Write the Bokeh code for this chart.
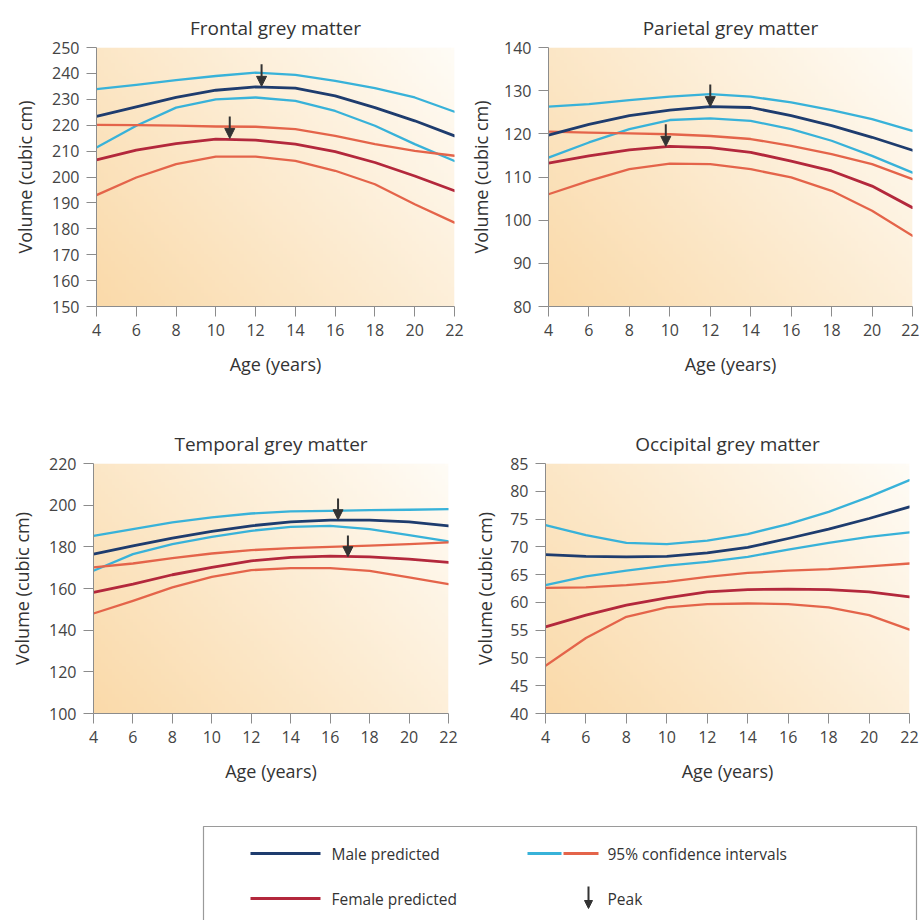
import numpy as np
from bokeh.plotting import figure
from bokeh.layouts import column, row
from bokeh.models import Range1d, FixedTicker, Arrow, NormalHead
from bokeh.embed import file_html
from bokeh.resources import INLINE
from bokeh.core.properties import value

# ---------------- data ----------------
ages = [4, 6, 8, 10, 12, 14, 16, 18, 20, 22]
x_ticks = [4, 6, 8, 10, 12, 14, 16, 18, 20, 22]

frontal_male_hi = [233.9, 235.6, 237.4, 239.0, 240.3, 239.4, 237.1, 234.3, 230.7, 225.2]
frontal_male = [223.4, 227.1, 230.7, 233.5, 234.8, 234.3, 231.3, 226.8, 221.7, 215.9]
frontal_male_lo = [211.4, 219.8, 226.8, 230.0, 230.7, 229.4, 225.5, 219.8, 212.7, 206.2]
frontal_female_hi = [220.1, 220.0, 219.8, 219.5, 219.4, 218.5, 215.9, 212.7, 210.1, 208.2]
frontal_female = [206.6, 210.4, 212.9, 214.6, 214.2, 212.7, 209.8, 205.6, 200.4, 194.7]
frontal_female_lo = [193.0, 199.8, 205.0, 207.9, 207.9, 206.2, 202.4, 197.2, 189.5, 182.4]
frontal_peak_age = [12.3, 10.7]
frontal_peak_vol = [235.0, 214.9]
frontal_yticks = [150, 160, 170, 180, 190, 200, 210, 220, 230, 240, 250]

parietal_male_hi = [126.3, 126.9, 127.8, 128.6, 129.2, 128.6, 127.3, 125.5, 123.4, 120.7]
parietal_male = [119.7, 122.2, 124.2, 125.5, 126.3, 126.1, 124.2, 121.9, 119.2, 116.2]
parietal_male_lo = [114.5, 118.0, 121.1, 123.2, 123.6, 123.0, 121.1, 118.4, 114.9, 111.0]
parietal_female_hi = [120.5, 120.3, 120.1, 119.9, 119.5, 118.8, 117.2, 115.3, 113.0, 109.5]
parietal_female = [113.2, 114.9, 116.3, 117.1, 116.8, 115.7, 113.7, 111.4, 107.9, 102.9]
parietal_female_lo = [106.0, 109.1, 111.8, 113.1, 113.0, 111.8, 109.9, 106.8, 102.2, 96.4]
parietal_peak_age = [12.0, 9.8]
parietal_peak_vol = [126.3, 117.1]
parietal_yticks = [80, 90, 100, 110, 120, 130, 140]

temporal_male_hi = [185.3, 188.5, 191.7, 194.1, 196.0, 197.0, 197.3, 197.6, 197.8, 198.1]
temporal_male = [176.5, 180.5, 184.2, 187.4, 190.1, 192.0, 192.8, 192.8, 192.0, 190.1]
temporal_male_lo = [168.5, 176.5, 181.3, 184.8, 187.7, 189.6, 190.1, 188.5, 185.6, 182.6]
temporal_female_hi = [170.1, 172.0, 174.6, 176.8, 178.4, 179.4, 180.0, 180.6, 181.3, 182.1]
temporal_female = [158.1, 162.1, 166.6, 170.1, 173.3, 174.9, 175.5, 175.2, 174.1, 172.5]
temporal_female_lo = [148.0, 154.1, 160.5, 165.6, 168.8, 169.8, 169.8, 168.5, 165.3, 162.1]
temporal_peak_age = [16.4, 16.9]
temporal_peak_vol = [193.0, 175.3]
temporal_yticks = [100, 120, 140, 160, 180, 200, 220]

occipital_male_hi = [73.9, 72.1, 70.7, 70.5, 71.1, 72.3, 74.1, 76.3, 79.0, 82.0]
occipital_male = [68.6, 68.3, 68.2, 68.3, 68.9, 69.9, 71.5, 73.2, 75.1, 77.2]
occipital_male_lo = [63.1, 64.7, 65.7, 66.6, 67.3, 68.2, 69.5, 70.7, 71.8, 72.6]
occipital_female_hi = [62.6, 62.7, 63.1, 63.7, 64.6, 65.3, 65.7, 66.0, 66.5, 67.0]
occipital_female = [55.6, 57.7, 59.5, 60.8, 61.9, 62.3, 62.4, 62.3, 61.9, 61.0]
occipital_female_lo = [48.6, 53.6, 57.4, 59.1, 59.7, 59.8, 59.7, 59.1, 57.7, 55.1]
occipital_peak_age = []
occipital_peak_vol = []
occipital_yticks = [40, 45, 50, 55, 60, 65, 70, 75, 80, 85]

legend_labels = ["Male predicted", "Female predicted", "95% confidence intervals", "Peak"]

# ---------------- style ----------------
FONT = "Open Sans"
MALE = "#1e3c6e"
MALE_CI = "#38b2d9"
FEMALE = "#b3283c"
FEMALE_CI = "#e4644a"
AXIS_GREY = "#8c8c8c"
TEXT = "#333333"


def gradient_image():
    ny, nx = 80, 100
    u = np.linspace(0, 1, nx)[None, :]
    v = np.linspace(0, 1, ny)[:, None]
    t = np.clip(0.62 * (1 - u) + 0.38 * (1 - v), 0, 1)
    c0 = np.array([255, 252, 246], dtype=float)
    c1 = np.array([250, 218, 170], dtype=float)
    img = np.empty((ny, nx), dtype=np.uint32)
    view = img.view(dtype=np.uint8).reshape((ny, nx, 4))
    for k in range(3):
        view[:, :, k] = (c0[k] + (c1[k] - c0[k]) * t).astype(np.uint8)
    view[:, :, 3] = 255
    return img


def make_panel(title, yticks, series, peak_age, peak_vol, width, height, bl, br, bt, bb, ylab_off):
    ylo, yhi = yticks[0], yticks[-1]
    p = figure(width=width, height=height, x_range=Range1d(ages[0], ages[-1]),
               y_range=Range1d(ylo, yhi), output_backend="svg", toolbar_location=None,
               min_border_left=bl, min_border_right=br, min_border_top=bt, min_border_bottom=bb,
               x_axis_label="Age (years)", y_axis_label="Volume (cubic cm)")
    p.outline_line_color = None
    p.grid.visible = False
    p.background_fill_color = "white"
    p.border_fill_color = "white"
    p.title.text = title
    p.title.align = "center"
    p.title.text_font = FONT
    p.title.text_font_size = "19px"
    p.title.text_font_style = "normal"
    p.title.text_color = TEXT
    p.title.standoff = 13

    x0, x1 = ages[0], ages[-1]
    p.image_rgba(image=[gradient_image()], x=x0, y=ylo, dw=x1 - x0, dh=yhi - ylo)

    male_hi, male, male_lo, female_hi, female, female_lo = series
    kw = dict(line_join="round", line_cap="round")
    p.line(ages, male_hi, line_color=MALE_CI, line_width=2.3, **kw)
    p.line(ages, male_lo, line_color=MALE_CI, line_width=2.3, **kw)
    p.line(ages, female_hi, line_color=FEMALE_CI, line_width=2.3, **kw)
    p.line(ages, female_lo, line_color=FEMALE_CI, line_width=2.3, **kw)
    p.line(ages, male, line_color=MALE, line_width=2.8, **kw)
    p.line(ages, female, line_color=FEMALE, line_width=2.8, **kw)

    alen = 0.085 * (yhi - ylo)
    for a, v in zip(peak_age, peak_vol):
        p.add_layout(Arrow(end=NormalHead(size=10, fill_color="#333333", line_color="#333333"),
                           x_start=a, y_start=v + alen, x_end=a, y_end=v,
                           line_color="#333333", line_width=2))

    p.xaxis.ticker = FixedTicker(ticks=x_ticks)
    p.yaxis.ticker = FixedTicker(ticks=yticks)
    for ax in (p.xaxis[0], p.yaxis[0]):
        ax.axis_line_color = AXIS_GREY
        ax.major_tick_line_color = AXIS_GREY
        ax.major_tick_out = 10
        ax.major_tick_in = 0
        ax.minor_tick_line_color = None
        ax.major_label_text_font = FONT
        ax.major_label_text_font_size = "16px"
        ax.major_label_text_color = "#444444"
        ax.major_label_standoff = 7
        ax.axis_label_text_font = FONT
        ax.axis_label_text_font_size = "18px"
        ax.axis_label_text_font_style = "normal"
        ax.axis_label_text_color = TEXT
    p.xaxis[0].axis_label_standoff = 13
    p.yaxis[0].axis_label_standoff = ylab_off
    return p


p1 = make_panel("Frontal grey matter", frontal_yticks,
                (frontal_male_hi, frontal_male, frontal_male_lo,
                 frontal_female_hi, frontal_female, frontal_female_lo),
                frontal_peak_age, frontal_peak_vol, 466, 410, 96, 12, 47, 104, 12)
p2 = make_panel("Parietal grey matter", parietal_yticks,
                (parietal_male_hi, parietal_male, parietal_male_lo,
                 parietal_female_hi, parietal_female, parietal_female_lo),
                parietal_peak_age, parietal_peak_vol, 453, 410, 76, 7, 47, 104, 8)
p3 = make_panel("Temporal grey matter", temporal_yticks,
                (temporal_male_hi, temporal_male, temporal_male_lo,
                 temporal_female_hi, temporal_female, temporal_female_lo),
                temporal_peak_age, temporal_peak_vol, 466, 375, 93, 18, 53, 72, 12)
p4 = make_panel("Occipital grey matter", occipital_yticks,
                (occipital_male_hi, occipital_male, occipital_male_lo,
                 occipital_female_hi, occipital_female, occipital_female_lo),
                occipital_peak_age, occipital_peak_vol, 453, 375, 79, 10, 50, 63, 10)

# ---------------- legend ----------------
LW, LH = 919, 135
leg = figure(width=LW, height=LH, x_range=Range1d(0, LW), y_range=Range1d(LH, 0),
             output_backend="svg", toolbar_location=None, min_border=0,
             x_axis_location=None, y_axis_location=None)
leg.grid.visible = False
leg.outline_line_color = None
leg.quad(left=[203], right=[916], top=[41], bottom=[LH + 20],
         fill_color="white", line_color="#9a9a9a", line_width=1.2)
leg.line([250, 320], [68, 68], line_color=MALE, line_width=3)
leg.line([250, 320], [113, 113], line_color=FEMALE, line_width=3)
leg.line([527, 561], [68, 68], line_color=MALE_CI, line_width=3)
leg.line([563, 598], [68, 68], line_color=FEMALE_CI, line_width=3)
leg.add_layout(Arrow(end=NormalHead(size=8, fill_color="#333333", line_color="#333333"),
                     x_start=588, y_start=101, x_end=588, y_end=123,
                     line_color="#333333", line_width=2))
leg.text(x=[331, 331, 607, 607], y=[68, 113, 68, 113],
         text=legend_labels,
         text_font=value(FONT), text_font_size="15.5px", text_color=TEXT,
         text_baseline="middle", text_align="left")

layout = column(row(p1, p2), row(p3, p4), leg)
open("out.html", "w").write(file_html(layout, INLINE))
